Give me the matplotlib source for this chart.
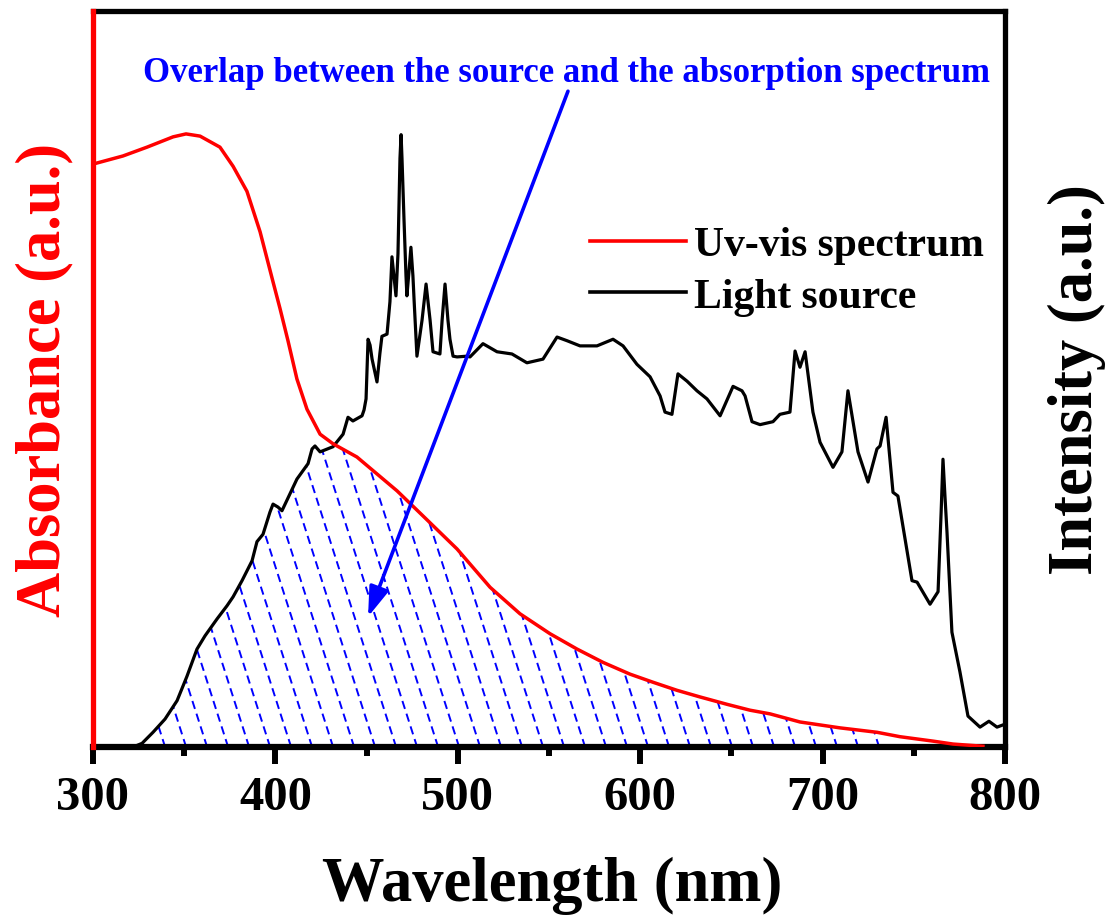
import numpy as np
import matplotlib
matplotlib.use("Agg")
import matplotlib.pyplot as plt

# ---------------- data ----------------
# Light source intensity (a.u.)
src_wl = [300.0, 323.0, 326.9, 332.9, 339.5, 346.1, 351.5, 357.0, 361.4, 368.0,
          373.5, 376.8, 381.7, 387.2, 389.9, 393.2, 397.0, 398.7, 401.4, 403.6,
          411.8, 417.9, 420.1, 421.7, 424.5, 431.6, 437.1, 439.8, 442.5, 447.5,
          448.6, 449.7, 450.8, 451.9, 453.0, 455.7, 457.3, 458.4, 461.2, 462.8,
          463.9, 465.0, 466.1, 467.2, 468.3, 468.9, 469.4, 470.5, 471.6, 472.1,
          473.2, 474.3, 475.4, 476.0, 477.6, 480.4, 482.6, 484.8, 486.4, 490.2,
          491.4, 493.0, 494.6, 495.7, 497.4, 499.6, 505.0, 506.7, 513.8, 521.5,
          529.7, 537.9, 546.7, 554.4, 559.9, 567.0, 576.3, 585.1, 590.6, 598.2,
          605.4, 610.9, 613.6, 617.4, 620.7, 625.7, 631.1, 636.6, 643.8, 650.9,
          655.8, 657.5, 661.3, 665.7, 672.8, 676.6, 682.1, 684.9, 687.6, 690.4,
          694.7, 698.6, 705.7, 710.6, 713.9, 719.4, 724.9, 729.8, 731.5, 734.8,
          738.6, 741.3, 745.2, 749.0, 751.8, 758.9, 763.3, 765.0, 766.0, 767.1,
          768.2, 770.9, 775.3, 779.7, 786.3, 791.2, 795.6, 800.0]
src_int = [0.1, 0.1, 0.5, 2.0, 3.8, 6.3, 9.6, 13.3, 15.1, 17.4,
           19.2, 20.4, 22.6, 25.3, 27.9, 28.9, 31.9, 33.0, 32.6, 32.1,
           36.4, 38.5, 40.5, 40.9, 40.1, 40.8, 42.5, 44.8, 44.3, 45.0,
           45.8, 47.3, 55.4, 54.6, 52.7, 49.6, 53.5, 55.8, 56.1, 60.5,
           66.6, 64.0, 61.3, 67.0, 80.0, 83.2, 80.0, 71.7, 64.0, 61.3,
           64.5, 67.9, 64.0, 60.9, 53.1, 58.0, 62.9, 58.0, 53.7, 53.4,
           58.0, 62.9, 58.0, 55.4, 53.1, 53.0, 53.1, 53.0, 54.8, 53.7,
           53.4, 52.2, 52.7, 55.7, 55.2, 54.5, 54.5, 55.4, 54.5, 52.0,
           50.3, 47.7, 45.5, 45.2, 50.7, 49.7, 48.4, 47.3, 45.0, 49.0,
           48.4, 47.7, 44.2, 43.8, 44.2, 45.2, 45.5, 53.8, 51.6, 53.7,
           45.5, 41.4, 38.0, 40.1, 48.4, 40.1, 36.0, 40.5, 40.9, 44.8,
           34.6, 34.1, 28.3, 22.6, 22.4, 19.4, 21.1, 32.0, 39.1, 34.0,
           29.2, 15.6, 10.2, 4.2, 2.7, 3.5, 2.7, 3.1]

# UV-vis absorbance (a.u.)
abs_wl = [300.0, 316.4, 329.6, 343.9, 351.0, 358.7, 369.6, 376.8, 384.4, 391.6,
          398.7, 402.5, 406.9, 411.8, 417.3, 424.5, 431.6, 444.7, 455.7, 466.7,
          480.9, 499.6, 517.7, 534.1, 550.5, 565.4, 579.6, 594.4, 607.0, 620.2,
          632.8, 647.6, 660.2, 671.2, 687.6, 709.5, 729.8, 742.4, 760.5, 771.5,
          787.9]
abs_val = [79.2, 80.3, 81.5, 82.9, 83.3, 83.0, 81.5, 78.9, 75.5, 70.0,
           63.2, 59.6, 55.2, 50.0, 45.9, 42.5, 41.2, 39.4, 37.1, 34.8,
           31.4, 26.9, 21.7, 18.1, 15.4, 13.3, 11.5, 9.9, 8.8, 7.7,
           6.8, 5.8, 5.0, 4.5, 3.4, 2.6, 2.0, 1.4, 0.8, 0.4,
           0.1]

x_ticks = [300, 400, 500, 600, 700, 800]
x_minor = [350, 450, 550, 650, 750]
overlap_end = 732.0

# ---------------- style ----------------
plt.rcParams["font.family"] = ["Liberation Serif", "DejaVu Serif"]
plt.rcParams["font.weight"] = "bold"
plt.rcParams["lines.scale_dashes"] = False

fig = plt.figure(figsize=(11.07, 9.2), dpi=100)
ax = fig.add_axes([93 / 1107, 172 / 920, 912 / 1107, 736 / 920])
ax.set_xlim(300, 800)
ax.set_ylim(0, 100)

# overlap region (min of both curves)
grid = np.arange(300.0, 800.01, 0.25)
s_i = np.interp(grid, src_wl, src_int)
a_i = np.interp(grid, abs_wl, abs_val, right=0.0)
ov = np.minimum(s_i, a_i)
m = grid <= overlap_end
poly = ax.fill_between(grid[m], 0, ov[m], facecolor="none", edgecolor="none", zorder=1)
clip_path = poly.get_paths()[0]

# dashed blue hatch lines, clipped to the overlap region
px_per_nm = 912 / 500.0
px_per_y = 736 / 100.0
lean = 0.32 * px_per_y / px_per_nm   # nm shift per y unit
spacing = 21.0 / px_per_nm
for x0 in np.arange(305.0, overlap_end + lean * 100 + spacing, spacing):
    ln, = ax.plot([x0, x0 - lean * 100], [0, 100], color="#0000ff", lw=1.4,
                  dashes=(6.0, 3.6), zorder=2)
    ln.set_clip_path(clip_path, ax.transData)

# curves
ax.plot(abs_wl, abs_val, color="#ff0000", lw=2.5, zorder=4, label="Uv-vis spectrum",
        solid_joinstyle="round")
ax.plot(src_wl, src_int, color="black", lw=2.3, zorder=3, label="Light source",
        solid_joinstyle="round")

# annotation
ax.annotate("", xy=(450.8, 17.7), xytext=(560.4, 89.1),
            arrowprops=dict(arrowstyle="-|>,head_length=0.9,head_width=0.3",
                            color="#0000ff", lw=2.6, mutation_scale=20,
                            shrinkA=0, shrinkB=0), zorder=6)
ax.text(327.4, 90.5, "Overlap between the source and the absorption spectrum",
        color="#0000ff", fontsize=25, fontweight="bold", ha="left", va="baseline",
        zorder=6)

# legend
leg = ax.legend(loc="upper left", bbox_to_anchor=(590 / 1107, (920 - 227) / 920),
                bbox_transform=fig.transFigure, frameon=False, fontsize=30,
                handlelength=2.3, handletextpad=0.2, labelspacing=0.32,
                borderpad=0, borderaxespad=0)
for t in leg.get_texts():
    t.set_fontweight("bold")
for h in leg.get_lines():
    h.set_linewidth(2.6)

# axes styling
ax.set_xticks(x_ticks)
ax.set_xticks(x_minor, minor=True)
ax.set_yticks([])
ax.tick_params(axis="x", which="major", direction="out", length=12, width=4.3,
               labelsize=35, pad=8.5)
ax.tick_params(axis="x", which="minor", direction="out", length=6.5, width=4.3)
for lab in ax.get_xticklabels():
    lab.set_fontweight("bold")
for side in ["top", "right", "bottom"]:
    ax.spines[side].set_linewidth(3.8)
    ax.spines[side].set_color("black")
ax.spines["bottom"].set_linewidth(4.5)
ax.spines["left"].set_linewidth(3.8)
ax.spines["left"].set_color("#ff0000")
ax.spines["left"].set_zorder(5)

ax.set_xlabel("Wavelength (nm)", fontsize=45, fontweight="bold")
ax.xaxis.set_label_coords(0.503, -0.148)
ax.set_ylabel("Absorbance (a.u.)", fontsize=45, fontweight="bold", color="#ff0000")
ax.yaxis.set_label_coords(-0.021, 0.5)

ax2 = ax.twinx()
ax2.set_ylim(0, 100)
ax2.set_yticks([])
for s in ax2.spines.values():
    s.set_visible(False)
ax2.set_zorder(ax.get_zorder() - 1)
ax2.set_ylabel("Intensity (a.u.)", fontsize=45, fontweight="bold", color="black")
ax2.yaxis.set_label_coords(1.047, 0.5)

fig.savefig("out.png", dpi=100)
